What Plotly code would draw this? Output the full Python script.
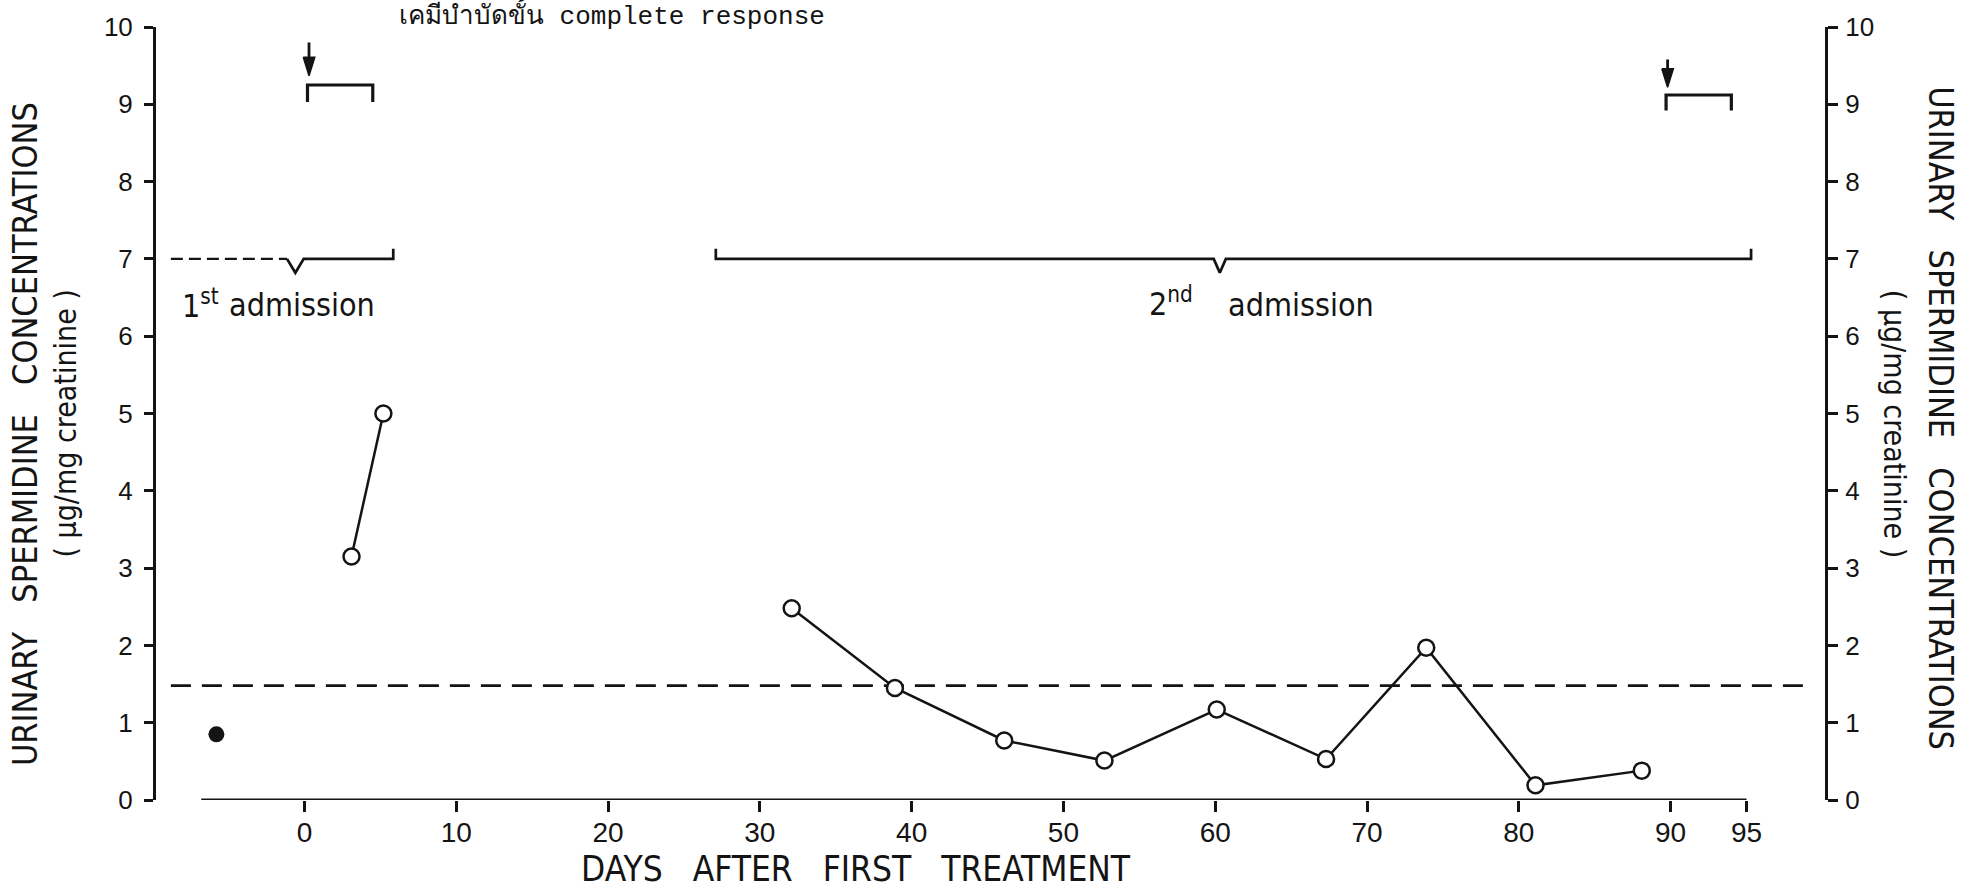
import plotly.graph_objects as go

INK = "#141414"
NARROW = "Liberation Sans Narrow, Arial Narrow, DejaVu Sans Condensed, sans-serif"
SANS = "Liberation Sans, Arial, sans-serif"
MONO = "Liberation Mono, Courier New, monospace"

# ---------------- data ----------------
pre_days = [-5.8]
pre_values = [0.85]

adm1_days = [3.1, 5.2]
adm1_values = [3.15, 5.0]

adm2_days = [32.1, 38.9, 46.1, 52.7, 60.1, 67.3, 73.9, 81.1, 88.1]
adm2_values = [2.48, 1.45, 0.77, 0.51, 1.17, 0.53, 1.97, 0.19, 0.38]

normal_upper_limit = 1.48
normal_span = [-8.8, 99.4]

x_tickvals = [0, 10, 20, 30, 40, 50, 60, 70, 80, 90, 95]
x_ticktext = ["0", "10", "20", "30", "40", "50", "60", "70", "80", "90", "95"]
y_tickvals = [0, 1, 2, 3, 4, 5, 6, 7, 8, 9, 10]
y_ticktext = ["0", "1", "2", "3", "4", "5", "6", "7", "8", "9", "10"]
x_axis_span = [-6.8, 95]

# treatment courses (arrow + bracket)
treat1_span = [0.2, 4.5]
treat1_level = [9.03, 9.25]
treat1_arrow = [0.3, 9.8, 9.37]      # day, tail, tip
treat2_span = [89.7, 94.0]
treat2_level = [8.92, 9.12]
treat2_arrow = [89.8, 9.58, 9.22]
arrow_head = [0.38, 0.24]            # half width (days), length (units)

# admission periods (brace-like lines)
adm_level = 7.0
adm_notch_depth = 6.82
adm_end_tick = 7.13
adm1_dashed = [-8.8, -1.15]
adm1_solid_end = 5.85
adm1_notch = -0.6
adm2_span = [27.1, 95.3]
adm2_notch = 60.3

fig = go.Figure()

# normal upper limit (dashed)
fig.add_trace(go.Scatter(
    x=normal_span, y=[normal_upper_limit, normal_upper_limit], mode="lines",
    line=dict(color=INK, width=2.7, dash="20px,11px"), hoverinfo="skip"))

# x axis base line (detached from the y axis)
fig.add_trace(go.Scatter(
    x=x_axis_span, y=[0, 0], mode="lines",
    line=dict(color=INK, width=3.2), hoverinfo="skip"))

# 1st admission
fig.add_trace(go.Scatter(
    x=adm1_dashed, y=[adm_level, adm_level], mode="lines",
    line=dict(color=INK, width=2.4, dash="12px,6px"), hoverinfo="skip"))
fig.add_trace(go.Scatter(
    x=[adm1_dashed[1], adm1_notch, adm1_notch + 0.55, adm1_solid_end, adm1_solid_end],
    y=[adm_level, adm_notch_depth, adm_level, adm_level, adm_end_tick],
    mode="lines", line=dict(color=INK, width=2.7), hoverinfo="skip"))

# 2nd admission
fig.add_trace(go.Scatter(
    x=[adm2_span[0], adm2_span[0], adm2_notch - 0.4, adm2_notch, adm2_notch + 0.4,
       adm2_span[1], adm2_span[1]],
    y=[adm_end_tick, adm_level, adm_level, adm_notch_depth, adm_level, adm_level, adm_end_tick],
    mode="lines", line=dict(color=INK, width=2.7), hoverinfo="skip"))

# treatment brackets and arrows
for span, lvl, arr in [(treat1_span, treat1_level, treat1_arrow),
                       (treat2_span, treat2_level, treat2_arrow)]:
    fig.add_trace(go.Scatter(
        x=[span[0], span[0], span[1], span[1]],
        y=[lvl[0], lvl[1], lvl[1], lvl[0]],
        mode="lines", line=dict(color=INK, width=3.2), hoverinfo="skip"))
    d, tail, tip = arr
    fig.add_trace(go.Scatter(
        x=[d, d], y=[tail, tip + arrow_head[1] * 0.8], mode="lines",
        line=dict(color=INK, width=2.8), hoverinfo="skip"))
    fig.add_trace(go.Scatter(
        x=[d - arrow_head[0], d + arrow_head[0], d, d - arrow_head[0]],
        y=[tip + arrow_head[1], tip + arrow_head[1], tip, tip + arrow_head[1]],
        mode="lines", fill="toself", fillcolor=INK,
        line=dict(color=INK, width=1.5), hoverinfo="skip"))

# data series
fig.add_trace(go.Scatter(
    x=pre_days, y=pre_values, mode="markers",
    marker=dict(symbol="circle", size=16, color=INK), hoverinfo="skip"))
for dd, vv in [(adm1_days, adm1_values), (adm2_days, adm2_values)]:
    fig.add_trace(go.Scatter(
        x=dd, y=vv, mode="lines+markers",
        line=dict(color=INK, width=2.5),
        marker=dict(symbol="circle", size=16, color="white",
                    line=dict(color=INK, width=2.5)),
        hoverinfo="skip"))

# right axis companion (invisible trace)
fig.add_trace(go.Scatter(x=[None], y=[None], yaxis="y2", showlegend=False, hoverinfo="skip"))

# in-plot labels
lab_font = dict(family=NARROW, size=32, color=INK)
fig.add_annotation(x=-8.2, y=6.42, xref="x", yref="y", text="1<sup>st</sup>",
                   showarrow=False, xanchor="left", yanchor="middle", font=lab_font)
fig.add_annotation(x=4.8, y=6.4, xref="x", yref="y", text="admission",
                   showarrow=False, xanchor="right", yanchor="middle", font=lab_font)
fig.add_annotation(x=55.5, y=6.44, xref="x", yref="y", text="2<sup>nd</sup>",
                   showarrow=False, xanchor="left", yanchor="middle", font=lab_font)
fig.add_annotation(x=70.6, y=6.4, xref="x", yref="y", text="admission",
                   showarrow=False, xanchor="right", yanchor="middle", font=lab_font)

# Thai note at top
fig.add_annotation(x=0.1444, y=1.0165, xref="paper", yref="paper",
                   text="เคมีบำบัดขั้น complete response",
                   showarrow=False, xanchor="left", yanchor="middle",
                   font=dict(family=MONO, size=26, color=INK))

# axis titles
NB = "\u00a0"
title1 = ("URINARY" + NB * 3 + "SPERMIDINE" + NB * 3 + "CONCENTRATIONS")
title2 = "(" + NB + "µg/mg" + NB + "creatinine" + NB + ")"
tfont1 = dict(family=NARROW, size=34, color=INK)
tfont2 = dict(family=NARROW, size=30, color=INK)
fig.add_annotation(x=-0.0788, y=0.474, xref="paper", yref="paper", text=title1,
                   showarrow=False, textangle=-90, font=tfont1,
                   xanchor="center", yanchor="middle")
fig.add_annotation(x=-0.0539, y=0.487, xref="paper", yref="paper", text=title2,
                   showarrow=False, textangle=-90, font=tfont2,
                   xanchor="center", yanchor="middle")
fig.add_annotation(x=1.0695, y=0.494, xref="paper", yref="paper", text=title1,
                   showarrow=False, textangle=90, font=tfont1,
                   xanchor="center", yanchor="middle")
fig.add_annotation(x=1.0414, y=0.4865, xref="paper", yref="paper", text=title2,
                   showarrow=False, textangle=90, font=tfont2,
                   xanchor="center", yanchor="middle")
fig.add_annotation(x=0.4197, y=-0.0899, xref="paper", yref="paper",
                   text="DAYS" + NB * 3 + "AFTER" + NB * 3 + "FIRST" + NB * 3 + "TREATMENT",
                   showarrow=False, font=dict(family=NARROW, size=35, color=INK),
                   xanchor="center", yanchor="middle")

fig.update_layout(
    width=1972, height=892,
    margin=dict(l=156, r=147, t=21, b=92),
    paper_bgcolor="white", plot_bgcolor="white",
    showlegend=False,
    xaxis=dict(range=[-9.78, 100.17], showgrid=False, zeroline=False, showline=False,
               tickmode="array", tickvals=x_tickvals, ticktext=x_ticktext,
               ticks="outside", ticklen=11, tickwidth=3, tickcolor=INK,
               tickfont=dict(family=SANS, size=28, color=INK), ticklabelstandoff=-4),
    yaxis=dict(range=[0, 10], showgrid=False, zeroline=False, showline=True,
               linecolor=INK, linewidth=3,
               tickmode="array", tickvals=y_tickvals, ticktext=y_ticktext,
               ticks="outside", ticklen=9, tickwidth=3, tickcolor=INK,
               tickfont=dict(family=SANS, size=26, color=INK), ticklabelstandoff=6),
    yaxis2=dict(range=[0, 10], overlaying="y", side="right", showgrid=False,
                zeroline=False, showline=True, linecolor=INK, linewidth=3,
                tickmode="array", tickvals=y_tickvals, ticktext=y_ticktext,
                ticks="outside", ticklen=10, tickwidth=3, tickcolor=INK,
                tickfont=dict(family=SANS, size=26, color=INK), ticklabelstandoff=2),
)

fig.write_html("out.html", config={"displayModeBar": False},
               post_script="document.body.style.margin='0';")
